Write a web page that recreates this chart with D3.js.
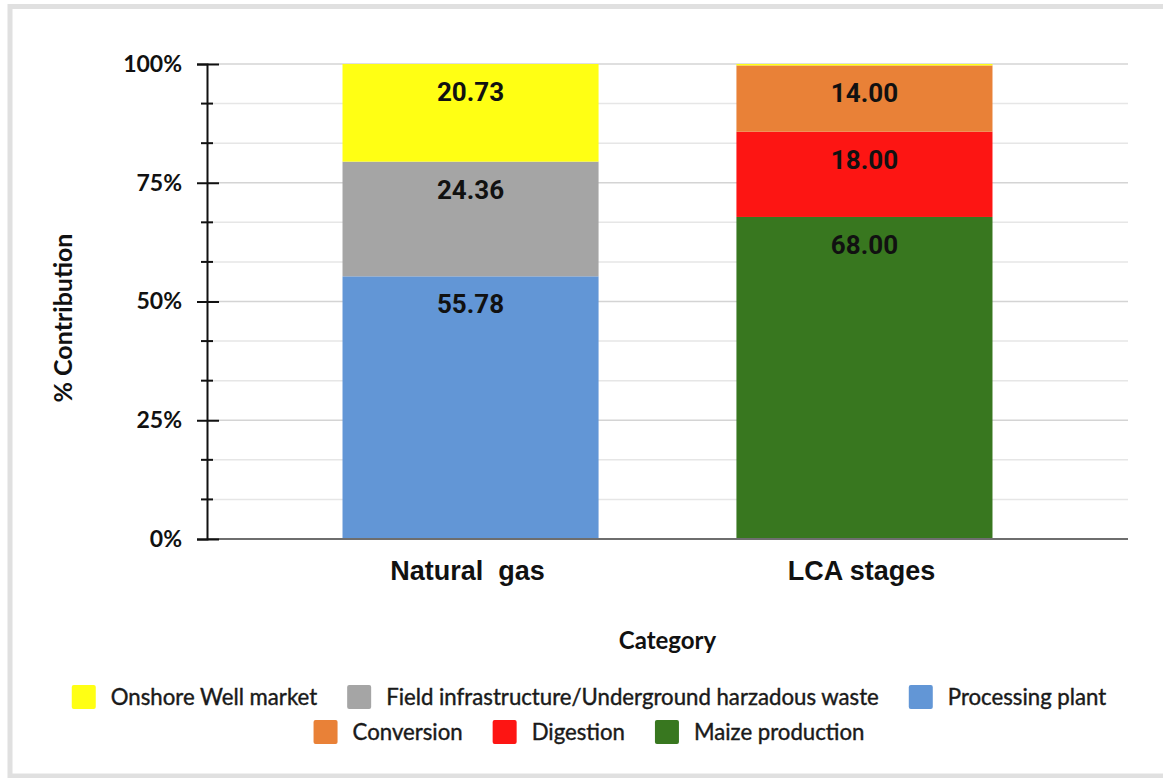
<!DOCTYPE html>
<html>
<head>
<meta charset="utf-8">
<script src="https://cdn.jsdelivr.net/npm/d3@7"></script>
<style>
  html, body { margin: 0; padding: 0; background: #fff; }
  svg { display: block; }
</style>
</head>
<body>
<svg id="chart" width="1163" height="778"></svg>
<script>
// data
const categories = ["Natural  gas", "LCA stages"];
const processingPlant = [55.78, 0];
const fieldInfrastructure = [24.36, 0];
const onshoreWell = [20.73, 0.3]; // thin yellow sliver sits on top of the LCA bar
const maizeProduction = [0, 68.0];
const digestion = [0, 18.0];
const conversion = [0, 14.0];

const yTicks = [0, 0.25, 0.5, 0.75, 1];
const legendRows = [
  ["Onshore Well market", "Field infrastructure/Underground harzadous waste", "Processing plant"],
  ["Conversion", "Digestion", "Maize production"]
];

const series = [
  { key: "Processing plant", values: processingPlant, color: "#6296d6" },
  { key: "Field infrastructure/Underground harzadous waste", values: fieldInfrastructure, color: "#a5a5a5" },
  { key: "Maize production", values: maizeProduction, color: "#38771f" },
  { key: "Digestion", values: digestion, color: "#fd1513" },
  { key: "Conversion", values: conversion, color: "#e98137" },
  { key: "Onshore Well market", values: onshoreWell, color: "#ffff14" }
];
const colorOf = Object.fromEntries(series.map(s => [s.key, s.color]));

const rows = categories.map((c, i) => {
  const r = { category: c };
  series.forEach(s => (r[s.key] = s.values[i]));
  return r;
});

const stacked = d3.stack()
  .keys(series.map(s => s.key))
  .offset(d3.stackOffsetExpand)(rows);

const svg = d3.select("#chart");

// frame: thin grey edge on the left, top and bottom
svg.append("rect").attr("width", 1163).attr("height", 778).attr("fill", "#fff");
svg.append("rect")
  .attr("x", 10).attr("y", 6.5)
  .attr("width", 1170).attr("height", 769.5)
  .attr("fill", "none")
  .attr("stroke", "#e0e0e0")
  .attr("stroke-width", 5);

const plotL = 207, plotR = 1128, plotT = 64, plotB = 539;

const x = d3.scaleBand()
  .domain(categories)
  .range([plotL, plotR])
  .paddingInner(0.35)
  .paddingOuter(0.344);

const y = d3.scaleLinear().domain([0, 1]).range([plotB, plotT]);

// gridlines every 1/12
const gridVals = d3.range(1, 13).map(i => i / 12);
svg.append("g")
  .selectAll("line")
  .data(gridVals)
  .join("line")
  .attr("x1", plotL)
  .attr("x2", plotR)
  .attr("y1", d => y(d))
  .attr("y2", d => y(d))
  .attr("stroke", (d, i) => ((i + 1) % 3 === 0 ? "#d4d4d4" : "#e6e6e6"))
  .attr("stroke-width", 1.5);

// bars
svg.append("g")
  .selectAll("g")
  .data(stacked)
  .join("g")
  .attr("fill", d => colorOf[d.key])
  .selectAll("rect")
  .data(d => d)
  .join("rect")
  .attr("x", d => x(d.data.category))
  .attr("width", x.bandwidth())
  .attr("y", d => y(d[1]))
  .attr("height", d => y(d[0]) - y(d[1]));

// value labels near the top of each segment
const labels = [];
stacked.forEach(layer => {
  layer.forEach(d => {
    const v = d.data[layer.key];
    if (v > 1) labels.push({ cat: d.data.category, segTop: d[1], v });
  });
});
svg.append("g")
  .selectAll("text")
  .data(labels)
  .join("text")
  .attr("x", d => x(d.cat) + x.bandwidth() / 2)
  .attr("y", d => y(d.segTop) + 37)
  .attr("text-anchor", "middle")
  .attr("font-family", "Roboto, sans-serif")
  .attr("font-weight", 700)
  .attr("font-size", 26)
  .attr("fill", "#111")
  .text(d => d.v.toFixed(2));

// x axis line
svg.append("line")
  .attr("x1", plotL).attr("x2", plotR)
  .attr("y1", plotB).attr("y2", plotB)
  .attr("stroke", "#6e6e6e")
  .attr("stroke-width", 2);

// y axis, major ticks cross the line
const yAxis = svg.append("g")
  .attr("transform", `translate(${plotL},0)`)
  .call(d3.axisLeft(y).tickValues(yTicks).tickFormat(d3.format(".0%")).tickSize(10).tickPadding(15));
yAxis.select(".domain").attr("stroke", "#111").attr("stroke-width", 2);
yAxis.selectAll(".tick line").attr("x1", 12).attr("x2", -10).attr("stroke", "#111").attr("stroke-width", 2);
yAxis.selectAll(".tick text")
  .attr("font-family", "Lato, sans-serif")
  .attr("font-weight", 700)
  .attr("font-size", 23)
  .attr("fill", "#111");

// minor ticks
const minorVals = gridVals.filter((d, i) => (i + 1) % 3 !== 0);
svg.append("g")
  .attr("transform", `translate(${plotL},0)`)
  .selectAll("line")
  .data(minorVals)
  .join("line")
  .attr("x1", -6).attr("x2", 6)
  .attr("y1", d => y(d)).attr("y2", d => y(d))
  .attr("stroke", "#111")
  .attr("stroke-width", 2);

// category labels
svg.append("g")
  .selectAll("text")
  .data(categories)
  .join("text")
  .attr("x", d => x(d) + x.bandwidth() / 2 - 3)
  .attr("y", 580)
  .attr("text-anchor", "middle")
  .attr("font-family", "'Liberation Sans', Arial, sans-serif")
  .attr("font-weight", 700)
  .attr("font-size", 27)
  .attr("fill", "#111")
  .style("white-space", "pre")
  .text(d => d);

// axis titles
svg.append("text")
  .attr("x", (plotL + plotR) / 2)
  .attr("y", 649)
  .attr("text-anchor", "middle")
  .attr("font-family", "Lato, sans-serif")
  .attr("font-weight", 700)
  .attr("font-size", 24)
  .attr("fill", "#111")
  .text("Category");

svg.append("text")
  .attr("transform", "translate(72,318) rotate(-90)")
  .attr("text-anchor", "middle")
  .attr("font-family", "Lato, sans-serif")
  .attr("font-weight", 700)
  .attr("font-size", 25)
  .attr("fill", "#111")
  .text("% Contribution");

// legend, each row centred
const box = 24, boxGap = 15, itemGap = 30, legendCx = 589;
legendRows.forEach((names, r) => {
  const g = svg.append("g");
  const items = g.selectAll("g")
    .data(names)
    .join("g");
  items.append("rect")
    .attr("width", box).attr("height", box)
    .attr("y", -box / 2)
    .attr("rx", 2)
    .attr("fill", d => colorOf[d]);
  items.append("text")
    .attr("x", box + boxGap)
    .attr("y", 8)
    .attr("font-family", "Lato, sans-serif")
    .attr("font-size", 22.2)
    .attr("fill", "#1a1a1a")
    .style("paint-order", "stroke")
    .attr("stroke", "#1a1a1a")
    .attr("stroke-width", 0.4)
    .text(d => d);
  let pos = 0;
  items.each(function() {
    const w = box + boxGap + d3.select(this).select("text").node().getComputedTextLength();
    d3.select(this).attr("transform", `translate(${pos},0)`);
    pos += w + itemGap;
  });
  const total = pos - itemGap;
  g.attr("transform", `translate(${legendCx - total / 2},${697 + r * 35})`);
});
</script>
</body>
</html>
